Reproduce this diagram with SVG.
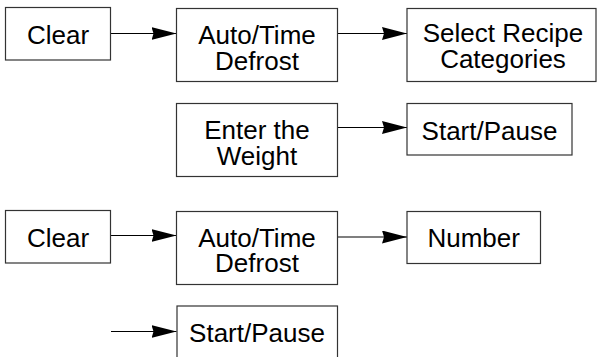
<svg xmlns="http://www.w3.org/2000/svg" width="597" height="357" viewBox="0 0 597 357">
<style>
.box{fill:#fff;stroke:#333;stroke-width:1.2}
.t{font-family:"Liberation Sans",Arial,Helvetica,sans-serif;font-size:26px;fill:#000;text-anchor:middle}
.c{stroke:#000;stroke-width:1.2;fill:none}
</style>
<defs>
<marker id="ah" markerUnits="userSpaceOnUse" markerWidth="27" markerHeight="14" refX="25" refY="6.5" orient="auto">
<path d="M0,0 L25,6.5 L0,13 L2,6.5 z" fill="#000"/>
</marker>
</defs>
<rect width="597" height="357" fill="#fff"/>
<g id="connectors">
<line class="c" x1="110.5" y1="33.5" x2="176.5" y2="33.5" marker-end="url(#ah)"/>
<line class="c" x1="337.5" y1="33.5" x2="407" y2="33.5" marker-end="url(#ah)"/>
<line class="c" x1="337.5" y1="127.5" x2="407" y2="127.5" marker-end="url(#ah)"/>
<line class="c" x1="110.5" y1="235.5" x2="176.5" y2="235.5" marker-end="url(#ah)"/>
<line class="c" x1="337.5" y1="237" x2="407" y2="237" marker-end="url(#ah)"/>
<line class="c" x1="111" y1="331.5" x2="176.5" y2="331.5" marker-end="url(#ah)"/>
</g>
<g id="clear1">
<rect class="box" x="5.5" y="7.5" width="105" height="52.5"/>
<text class="t" x="58" y="44">Clear</text>
</g>
<g id="defrost1">
<rect class="box" x="176.5" y="8.5" width="161" height="73"/>
<text class="t" x="257" y="44"><tspan x="257">Auto/Time</tspan><tspan x="257" dy="26">Defrost</tspan></text>
</g>
<g id="recipe">
<rect class="box" x="407" y="8.5" width="189" height="73"/>
<text class="t" x="503" y="42"><tspan x="503">Select Recipe</tspan><tspan x="503" dy="26">Categories</tspan></text>
</g>
<g id="weight">
<rect class="box" x="176.5" y="103.5" width="161" height="73"/>
<text class="t" x="257" y="138.5"><tspan x="257">Enter the</tspan><tspan x="257" dy="26.5">Weight</tspan></text>
</g>
<g id="start1">
<rect class="box" x="407" y="103.5" width="165" height="51.5"/>
<text class="t" x="489.5" y="139.5">Start/Pause</text>
</g>
<g id="clear2">
<rect class="box" x="5.5" y="210.5" width="105" height="52.5"/>
<text class="t" x="58" y="246.5">Clear</text>
</g>
<g id="defrost2">
<rect class="box" x="176.5" y="211.5" width="161" height="73"/>
<text class="t" x="257" y="246.5"><tspan x="257">Auto/Time</tspan><tspan x="257" dy="25">Defrost</tspan></text>
</g>
<g id="number">
<rect class="box" x="407" y="211.5" width="133.5" height="52"/>
<text class="t" x="473.7" y="247.3">Number</text>
</g>
<g id="start2">
<rect class="box" x="177" y="306" width="160.5" height="60"/>
<text class="t" x="257" y="342">Start/Pause</text>
</g>
</svg>
